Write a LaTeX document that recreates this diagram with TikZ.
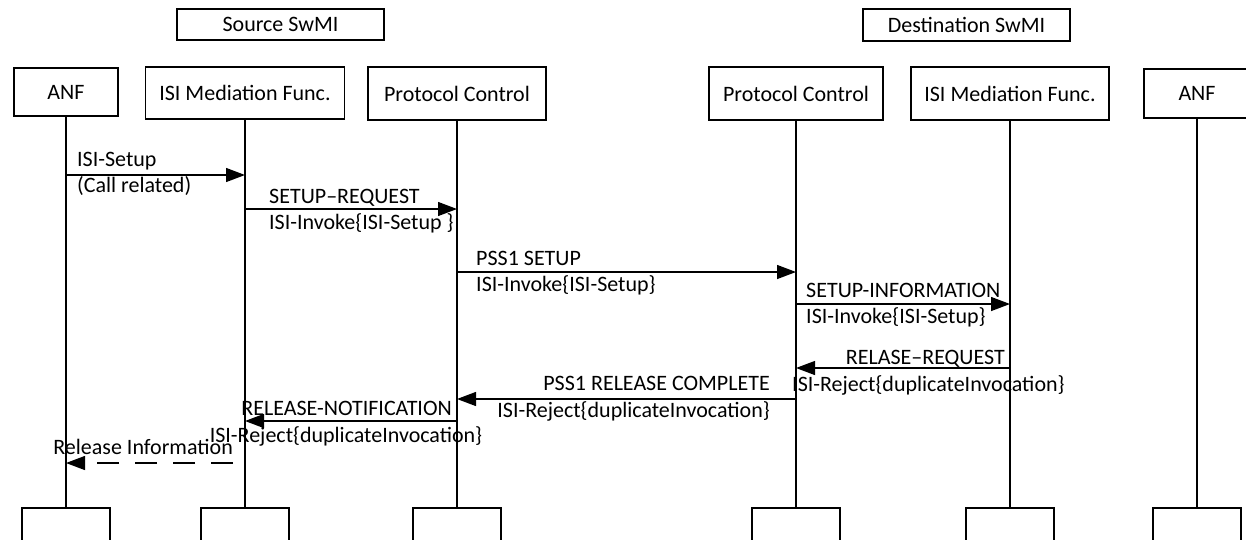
\documentclass[tikz,border=0pt]{standalone}
\usepackage{fontspec}
\setmainfont{Carlito}
\usetikzlibrary{arrows.meta}

\begin{document}
\begin{tikzpicture}[x=1pt, y=-1pt,
  every node/.style={font=\fontsize{22}{26}\selectfont},
  box/.style={draw, line width=1.3pt, inner sep=0pt},
  endbox/.style={draw, line width=1.3pt, minimum width=88pt, minimum height=40pt},
  msg/.style={line width=1.3pt, -{Triangle[length=19pt, width=14pt]}},
  lbl/.style={inner sep=0pt}]
  \useasboundingbox (0,0) rectangle (1246,539);
  % the two systems
  \node [box, minimum width=207pt, minimum height=31pt] (src) at (280.5,24.5) {Source SwMI};
  \node [box, minimum width=207pt, minimum height=32pt] (dst) at (966.5,25) {Destination SwMI};
  % entities
  \node [box, minimum width=104pt, minimum height=48pt] (anfA) at (66,92) {ANF};
  \node [box, minimum width=199pt, minimum height=52pt] (ismA) at (245,93) {ISI Mediation Func.};
  \node [box, minimum width=178pt, minimum height=53pt] (pcA) at (457,93.5) {Protocol Control};
  \node [box, minimum width=174pt, minimum height=53pt] (pcB) at (796,93.5) {Protocol Control};
  \node [box, minimum width=198pt, minimum height=53pt] (ismB) at (1010,93.5) {ISI Mediation Func.};
  \node [box, minimum width=106pt, minimum height=49pt] (anfB) at (1197,93.5) {ANF};
  \foreach \n in {anfA, ismA, pcA, pcB, ismB, anfB} {
    \node [endbox] (\n e) at (\n |- 0,528) {};
    \draw [line width=1.1pt] (\n) -- (\n e);
  }
  % message levels
  \coordinate (m1) at (0,175);
  \coordinate (m2) at (0,209);
  \coordinate (m3) at (0,272);
  \coordinate (m4) at (0,304);
  \coordinate (m5) at (0,368);
  \coordinate (m6) at (0,399);
  \coordinate (m7) at (0,421);
  \coordinate (m8) at (0,463);
  \draw [msg] (anfA |- m1) -- (ismA |- m1);
  \node [lbl, anchor=base west] (t1a) at ([xshift=11pt, yshift=9pt]anfA |- m1) {ISI-Setup};
  \node [lbl, anchor=base west] (t1b) at ([xshift=11pt, yshift=-17pt]anfA |- m1) {(Call related)};
  \draw [msg] (ismA |- m2) -- (pcA |- m2);
  \node [lbl, anchor=base west] (t2a) at ([xshift=24pt, yshift=6pt]ismA |- m2) {SETUP--REQUEST};
  \node [lbl, anchor=base west] (t2b) at ([xshift=24pt, yshift=-20pt]ismA |- m2) {ISI-Invoke\{ISI-Setup \}};
  \draw [msg] (pcA |- m3) -- (pcB |- m3);
  \node [lbl, anchor=base west] (t3a) at ([xshift=19pt, yshift=7pt]pcA |- m3) {PSS1 SETUP};
  \node [lbl, anchor=base west] (t3b) at ([xshift=19pt, yshift=-19pt]pcA |- m3) {ISI-Invoke\{ISI-Setup\}};
  \draw [msg] (pcB |- m4) -- (ismB |- m4);
  \node [lbl, anchor=base west] (t4a) at ([xshift=10pt, yshift=7pt]pcB |- m4) {SETUP-INFORMATION};
  \node [lbl, anchor=base west] (t4b) at ([xshift=10pt, yshift=-19pt]pcB |- m4) {ISI-Invoke\{ISI-Setup\}};
  \draw [msg] (ismB |- m5) -- (pcB |- m5);
  \node [lbl, anchor=base east] (t5a) at ([xshift=-5pt, yshift=4pt]ismB |- m5) {RELASE--REQUEST};
  \node [lbl, anchor=base west] (t5b) at ([xshift=-4pt, yshift=-23pt]pcB |- m5) {ISI-Reject\{duplicateInvocation\}};
  \draw [msg] (pcB |- m6) -- (pcA |- m6);
  \node [lbl, anchor=base east] (t6a) at ([xshift=-26pt, yshift=9pt]pcB |- m6) {PSS1 RELEASE COMPLETE};
  \node [lbl, anchor=base east] (t6b) at ([xshift=-26pt, yshift=-18pt]pcB |- m6) {ISI-Reject\{duplicateInvocation\}};
  \draw [msg] (pcA |- m7) -- (ismA |- m7);
  \node [lbl, anchor=base east] (t7a) at ([xshift=-5pt, yshift=6pt]pcA |- m7) {RELEASE-NOTIFICATION};
  \node [lbl, anchor=base] (t7b) at ([xshift=-111pt, yshift=-21pt]pcA |- m7) {ISI-Reject\{duplicateInvocation\}};
  \coordinate (relinfo) at ([xshift=-12pt]ismA |- m8);
  \draw [msg, dash pattern=on 22pt off 16pt] (relinfo) -- (anfA |- m8);
  \node [lbl, anchor=base east] (t8a) at ([yshift=9pt]relinfo) {Release Information};
\end{tikzpicture}
\end{document}
